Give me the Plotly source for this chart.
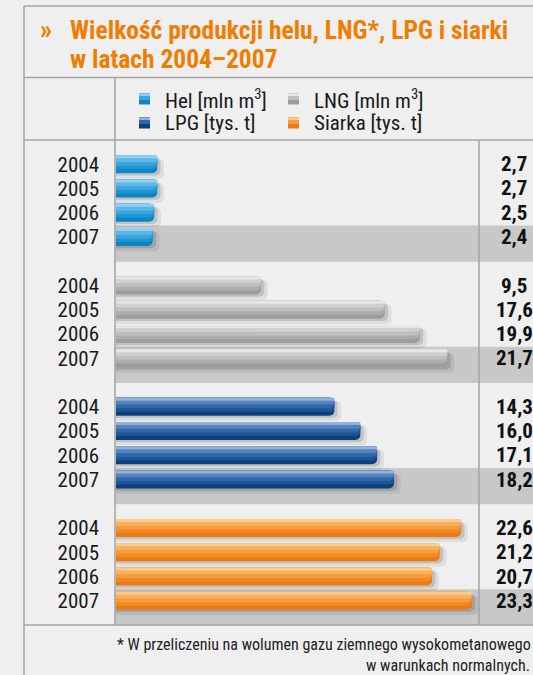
import plotly.graph_objects as go

# ---------------- data ----------------
series_names = ["Hel", "LNG", "LPG", "Siarka"]
legend_labels = ["Hel [mln m<sup>3</sup>]", "LNG [mln m<sup>3</sup>]", "LPG [tys. t]", "Siarka [tys. t]"]
years = ["2004", "2005", "2006", "2007"]
hel = [2.7, 2.7, 2.5, 2.4]
lng = [9.5, 17.6, 19.9, 21.7]
lpg = [14.3, 16.0, 17.1, 18.2]
siarka = [22.6, 21.2, 20.7, 23.3]
values = [hel, lng, lpg, siarka]

title_line1 = "Wielkość produkcji helu, LNG*, LPG i siarki"
title_line2 = "w latach 2004–2007"
footnote1 = "* W przeliczeniu na wolumen gazu ziemnego wysokometanowego"
footnote2 = "w warunkach normalnych."

# ---------------- styles ----------------
W, H = 533, 675
BG = "#efefef"
BAND = "#c7c8c7"
LINE = "#a3a3a3"
ORANGE = "#f07d00"
FONT = "Liberation Sans Narrow, Roboto Condensed, DejaVu Sans Condensed, Roboto, sans-serif"

grad = {
    "Hel":    ["#0a85c6", "#1f95d4", "#3aa6de", "#5db8e8", "#8fd0f3"],
    "LNG":    ["#9c9c9c", "#adadad", "#bfbfbf", "#d0d0d0", "#e6e6e6"],
    "LPG":    ["#0d3f7c", "#1d5597", "#3467a8", "#5683bd", "#8fb3dc"],
    "Siarka": ["#ec7a12", "#f28a24", "#f69c3c", "#f8b05e", "#fbcb8c"],
}
fracs = [1.0, 0.78, 0.58, 0.38, 0.16]
T = 0.74  # bar thickness in row units


def px_x(x):
    return x / W


def px_y(y):
    return 1 - y / H


fig = go.Figure()

# shadows
for g, name in enumerate(series_names):
    rows = [g * 5 + i for i in range(len(years))]
    vals = values[g]
    fig.add_trace(go.Bar(
        x=[v + 0.45 for v in vals], y=rows, orientation="h",
        width=T + 0.08, offset=-T / 2 + 0.14,
        marker=dict(color="rgba(0,0,0,0.07)", line=dict(width=0)),
        hoverinfo="skip", showlegend=False))
    fig.add_trace(go.Bar(
        x=[v + 0.22 for v in vals], y=rows, orientation="h",
        width=T, offset=-T / 2 + 0.09,
        marker=dict(color="rgba(0,0,0,0.13)", line=dict(width=0)),
        hoverinfo="skip", showlegend=False))

# gradient bars
for g, name in enumerate(series_names):
    rows = [g * 5 + i for i in range(len(years))]
    vals = values[g]
    for f, col in zip(fracs, grad[name]):
        fig.add_trace(go.Bar(
            x=vals, y=rows, orientation="h",
            width=T * f, offset=-T / 2,
            marker=dict(color=col, line=dict(width=0)),
            name=name, showlegend=False,
            hovertemplate=name + " %{x}<extra></extra>"))

shapes = []
annotations = []

# 2007 bands
for g in range(len(series_names)):
    r = g * 5 + len(years) - 1
    shapes.append(dict(type="rect", layer="below", xref="paper", yref="y",
                       x0=px_x(115), x1=1, y0=r - 0.47, y1=min(r + 1.02, 19),
                       fillcolor=BAND, line=dict(width=0)))


def hline(y, x0=24, x1=W):
    shapes.append(dict(type="line", xref="paper", yref="paper", x0=px_x(x0), x1=px_x(x1),
                       y0=px_y(y), y1=px_y(y), line=dict(color=LINE, width=1.5), layer="above"))


def vline(x, y0, y1):
    shapes.append(dict(type="line", xref="paper", yref="paper", x0=px_x(x), x1=px_x(x),
                       y0=px_y(y0), y1=px_y(y1), line=dict(color=LINE, width=1.5), layer="above"))


hline(6)
hline(77.5)
hline(140)
hline(625)
vline(24, 6, H)
vline(115, 77.5, 625)
vline(479, 140, 625)

# value labels
for g in range(len(series_names)):
    for i, v in enumerate(values[g]):
        annotations.append(dict(
            xref="paper", yref="y", x=px_x(514), y=g * 5 + i,
            text="<b>" + f"{v:.1f}".replace(".", ",") + "</b>", showarrow=False,
            xanchor="center", yanchor="middle",
            font=dict(family=FONT, size=21, color="#111111")))

# title
annotations.append(dict(xref="paper", yref="paper", x=px_x(38), y=px_y(30), text="<b>»</b>",
                        showarrow=False, xanchor="left", yanchor="middle",
                        font=dict(family=FONT, size=27, color=ORANGE)))
annotations.append(dict(xref="paper", yref="paper", x=px_x(68), y=px_y(30), text="<b>" + title_line1 + "</b>",
                        showarrow=False, xanchor="left", yanchor="middle",
                        font=dict(family=FONT, size=25.5, color=ORANGE)))
annotations.append(dict(xref="paper", yref="paper", x=px_x(68), y=px_y(59), text="<b>" + title_line2 + "</b>",
                        showarrow=False, xanchor="left", yanchor="middle",
                        font=dict(family=FONT, size=25.5, color=ORANGE)))

# legend (manual 2x2)
leg_pos = [(139, 99), (288, 99), (139, 123), (288, 123)]
for (lx, ly), name, lab in zip(leg_pos, series_names, legend_labels):
    cols = grad[name]
    shapes.append(dict(type="rect", xref="paper", yref="paper", x0=px_x(lx), x1=px_x(lx + 11),
                       y0=px_y(ly + 5.5), y1=px_y(ly - 5.5), fillcolor=cols[0], line=dict(width=0)))
    shapes.append(dict(type="rect", xref="paper", yref="paper", x0=px_x(lx), x1=px_x(lx + 11),
                       y0=px_y(ly + 1), y1=px_y(ly - 5.5), fillcolor=cols[2], line=dict(width=0)))
    shapes.append(dict(type="rect", xref="paper", yref="paper", x0=px_x(lx), x1=px_x(lx + 11),
                       y0=px_y(ly - 3), y1=px_y(ly - 5.5), fillcolor=cols[4], line=dict(width=0)))
    annotations.append(dict(xref="paper", yref="paper", x=px_x(lx + 24), y=px_y(ly), text=lab,
                            showarrow=False, xanchor="left", yanchor="middle",
                            font=dict(family=FONT, size=21, color="#1a1a1a")))

# footnote
annotations.append(dict(xref="paper", yref="paper", x=px_x(533), y=px_y(644), text=footnote1,
                        showarrow=False, xanchor="right", yanchor="middle",
                        font=dict(family=FONT, size=16, color="#222222")))
annotations.append(dict(xref="paper", yref="paper", x=px_x(532), y=px_y(665), text=footnote2,
                        showarrow=False, xanchor="right", yanchor="middle",
                        font=dict(family=FONT, size=16, color="#222222")))

fig.update_layout(
    width=W, height=H, autosize=False,
    margin=dict(l=0, r=0, t=0, b=0, pad=0),
    paper_bgcolor=BG, plot_bgcolor="rgba(0,0,0,0)",
    barmode="overlay", barcornerradius=5,
    showlegend=False,
    shapes=shapes, annotations=annotations,
    xaxis=dict(domain=[px_x(116), px_x(479)], range=[0, 363 / 15.27],
               showgrid=False, zeroline=False, showticklabels=False, ticks="", fixedrange=True),
    yaxis=dict(domain=[px_y(625), px_y(140)], range=[19, -1],
               tickvals=[g * 5 + i for g in range(len(series_names)) for i in range(len(years))],
               ticktext=[y for g in range(len(series_names)) for y in years],
               showgrid=False, zeroline=False, ticks="", ticklabelstandoff=16,
               tickfont=dict(family=FONT, size=21, color="#1a1a1a"), fixedrange=True),
)

fig.write_html(
    "out.html",
    config={"displayModeBar": False},
    post_script="document.body.style.margin='0px';document.body.style.overflow='hidden';"
                "document.body.style.backgroundColor='#efefef';",
)
